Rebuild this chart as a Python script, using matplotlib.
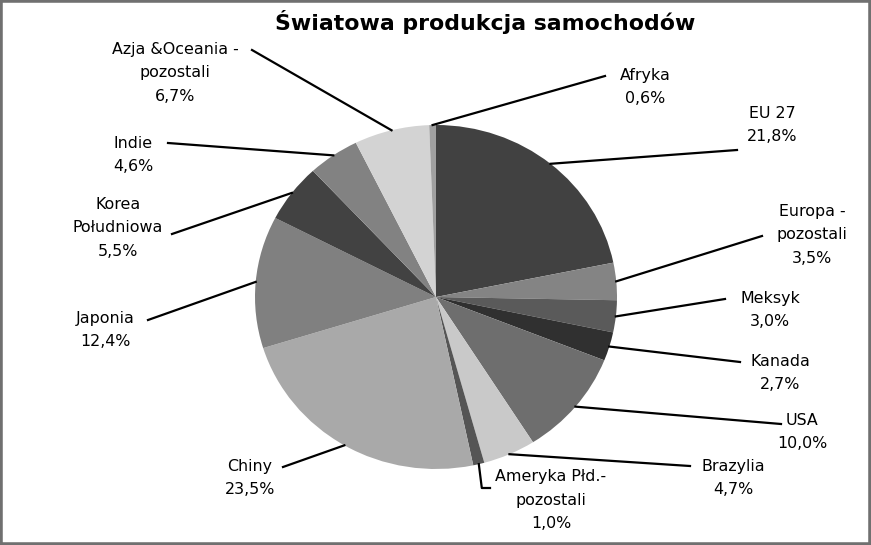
import matplotlib
matplotlib.use("Agg")
import matplotlib.pyplot as plt
import numpy as np
from matplotlib.patches import Rectangle

plt.rcParams['font.family'] = ['DejaVu Sans']

categories = ["EU 27", "Europa -\npozostali", "Meksyk", "Kanada", "USA", "Brazylia",
              "Ameryka Płd.-\npozostali", "Chiny", "Japonia", "Korea\nPołudniowa",
              "Indie", "Azja &Oceania -\npozostali", "Afryka"]
values = [21.8, 3.5, 3.0, 2.7, 10.0, 4.7, 1.0, 23.5, 12.4, 5.5, 4.6, 6.7, 0.6]
colors = ["#414141", "#848484", "#5a5a5a", "#303030", "#6e6e6e", "#c9c9c9",
          "#555555", "#a9a9a9", "#808080", "#424242", "#828282", "#d3d3d3", "#a0a0a0"]

# label text centre (pixel) and leader line end (pixel)
label_pos = [(772, 125), (812, 235), (770, 310), (780, 373), (802, 432), (733, 478),
             (551, 500), (250, 478), (105, 330), (118, 228), (133, 155), (175, 73), (645, 87)]
line_end = [(737, 150), (762, 236), (725, 299), (740, 362), (781, 424), (690, 466),
            (490, 488), (283, 467), (148, 320), (172, 234), (168, 143), (252, 50), (605, 76)]

W, H = 871, 545
fig = plt.figure(figsize=(W / 100, H / 100), dpi=100)

# pie box in pixels
px0, px1, py0, py1 = 255, 617, 125, 469
ax = fig.add_axes([px0 / W, (H - py1) / H, (px1 - px0) / W, (py1 - py0) / H])
wedges, _ = ax.pie(values, colors=colors, startangle=90, counterclock=False,
                   wedgeprops=dict(linewidth=0))
ax.set_aspect('auto')
ax.set_xlim(-1, 1)
ax.set_ylim(-1, 1)
ax.axis('off')

# overlay axis in pixel coordinates
ov = fig.add_axes([0, 0, 1, 1], zorder=5)
ov.set_xlim(0, W)
ov.set_ylim(H, 0)
ov.axis('off')
ov.patch.set_alpha(0)

cx, cy = (px0 + px1) / 2, (py0 + py1) / 2
rx, ry = (px1 - px0) / 2, (py1 - py0) / 2
total = sum(values)
start = 90.0
for i, (cat, v) in enumerate(zip(categories, values)):
    span = v / total * 360
    mid = np.deg2rad(start - span / 2)
    start -= span
    sx, sy = cx + rx * np.cos(mid), cy - ry * np.sin(mid)
    ex, ey = line_end[i]
    if i == 6:
        ov.plot([sx, sx + 3, ex], [sy, ey, ey], color='black', lw=1.6)
    else:
        ov.plot([sx, ex], [sy, ey], color='black', lw=1.6)
    pct = f"{v:.1f}".replace('.', ',') + "%"
    tx, ty = label_pos[i]
    ov.text(tx, ty, cat + "\n" + pct, ha='center', va='center', fontsize=11.4,
            linespacing=1.68, color='black')

ov.text(485, 22, "Światowa produkcja samochodów", ha='center', va='center',
        fontsize=15.8, fontweight='bold', color='black')

fig.patches.append(Rectangle((0, 0), 1, 1, transform=fig.transFigure, fill=False,
                             edgecolor='#707070', linewidth=4))

fig.savefig("out.png", dpi=100)
